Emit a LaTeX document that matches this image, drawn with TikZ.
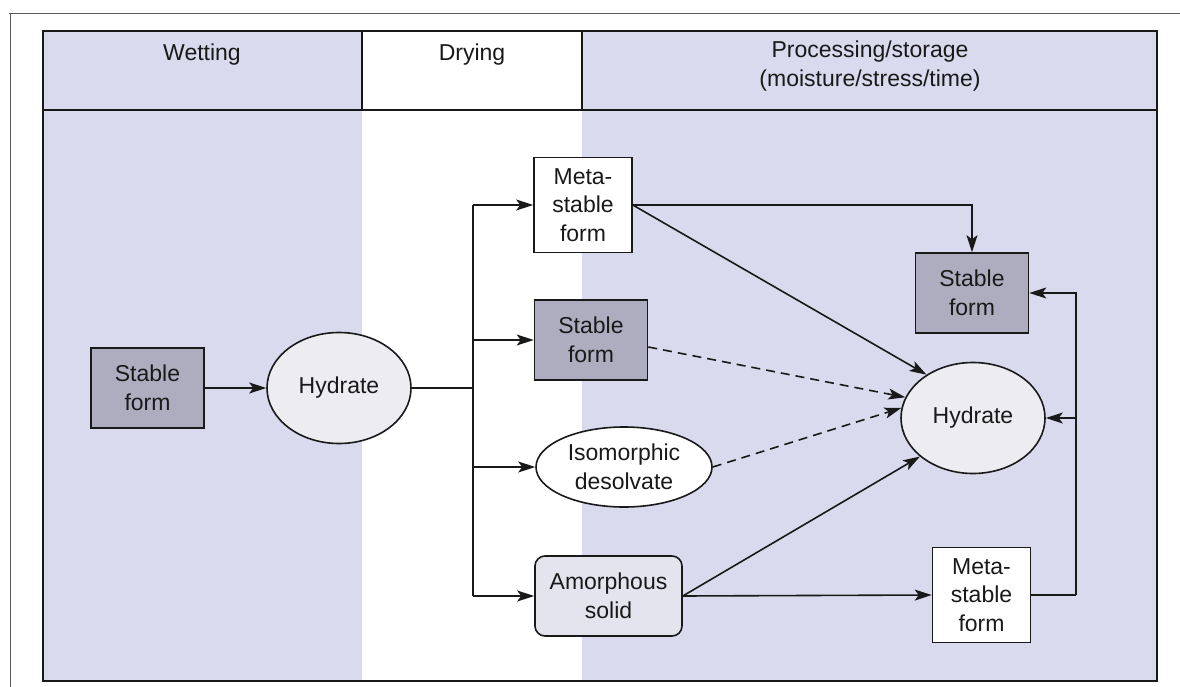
\documentclass[tikz,border=0pt]{standalone}
\usepackage{fontspec}
\setmainfont{Liberation Sans}
\usetikzlibrary{arrows.meta,shapes.geometric,calc}
\definecolor{lav}{RGB}{218,218,238}
\definecolor{stablefill}{RGB}{174,173,192}
\definecolor{hydfill}{RGB}{236,236,241}
\definecolor{amfill}{RGB}{228,228,238}
\definecolor{ink}{RGB}{25,25,25}
\tikzset{
  lbl/.style={font=\fontsize{23}{28.5}\selectfont, align=center, text=ink},
  boxbase/.style={lbl, draw=ink, line width=1.6pt, inner sep=0pt},
  stablebox/.style={boxbase, fill=stablefill, minimum width=113pt, minimum height=80pt},
  metabox/.style={boxbase, fill=white, minimum width=98pt, minimum height=95pt},
  hydell/.style={boxbase, ellipse, fill=hydfill, minimum width=144pt, minimum height=111pt},
  isoell/.style={boxbase, ellipse, fill=white, minimum width=176pt, minimum height=80pt},
  amorbox/.style={boxbase, fill=amfill, rounded corners=10pt, minimum width=147pt, minimum height=80pt},
  conn/.style={draw=ink, line width=1.6pt},
  arr/.style={conn, -{Stealth[length=17pt,width=11pt,inset=4pt]}},
  darr/.style={arr, dash pattern=on 9pt off 6pt},
  hdr/.style={lbl}
}
\begin{document}
\begin{tikzpicture}[x=1pt,y=-1pt]
\useasboundingbox (0,0) rectangle (1180,687);
\fill[white] (0,0) rectangle (1180,687);
% outer frame (partial)
\draw[gray!70!black, line width=1pt] (9,14) -- (1180,14);
\draw[gray!70!black, line width=1pt] (10,14) -- (10,687);
% column backgrounds
\fill[lav] (43,31) rectangle (362,681);
\fill[lav] (582,31) rectangle (1157,681);
% header and frame lines
\draw[ink, line width=1.6pt] (43,31) rectangle (1157,681);
\draw[ink, line width=1.6pt] (43,110) -- (1157,110);
\draw[ink, line width=1.6pt] (362,31) -- (362,110);
\draw[ink, line width=1.6pt] (582,31) -- (582,110);
% header texts
\node[hdr] (hw) at (202,55) {Wetting};
\node[hdr] (hd) at (472,55) {Drying};
\node[hdr] (hp) at (870,66) {Processing/storage\\(moisture/stress/time)};
% nodes
\node[stablebox] (s0) at (147.5,388) {Stable\\form};
\node[hydell] (h0) at (339,388) {Hydrate};
\coordinate (br) at (473,388);
\node[metabox] (m1) at (583,205) {Meta-\\stable\\form};
\node[stablebox] (s1) at (591,340) {Stable\\form};
\node[isoell] (iso) at (624,467) {Isomorphic\\desolvate};
\node[amorbox] (am) at (608.5,596) {Amorphous\\solid};
\node[stablebox] (s2) at (972,293) {Stable\\form};
\node[hydell] (h2) at (973,418) {Hydrate};
\node[metabox] (m2) at (981.5,595) {Meta-\\stable\\form};
\coordinate (rc) at (1076,595);
% connectors
\draw[arr] (s0) -- (h0);
\draw[conn] (h0.east) -- (br);
\draw[conn] (br |- m1.west) -- (br |- am.west);
\draw[arr] (br |- m1.west) -- (m1.west);
\draw[arr] (br |- s1.west) -- (s1.west);
\draw[arr] (br |- iso.west) -- (iso.west);
\draw[arr] (br |- am.west) -- (am.west);
\draw[arr] (m1.east) -| (s2.north);
\draw[arr] (m1.east) -- (h2.137);
\draw[darr] ([yshift=-7pt]s1.east) -- (h2.163);
\draw[darr] (iso.east) -- (h2.172);
\draw[arr] (am.east) -- (h2.216);
\draw[arr] (am.east) -- (m2.west);
\draw[conn] (m2.east) -- (rc);
\draw[arr] (rc) |- (s2.east);
\draw[arr] (rc |- h2.east) -- (h2.east);
\end{tikzpicture}
\end{document}
